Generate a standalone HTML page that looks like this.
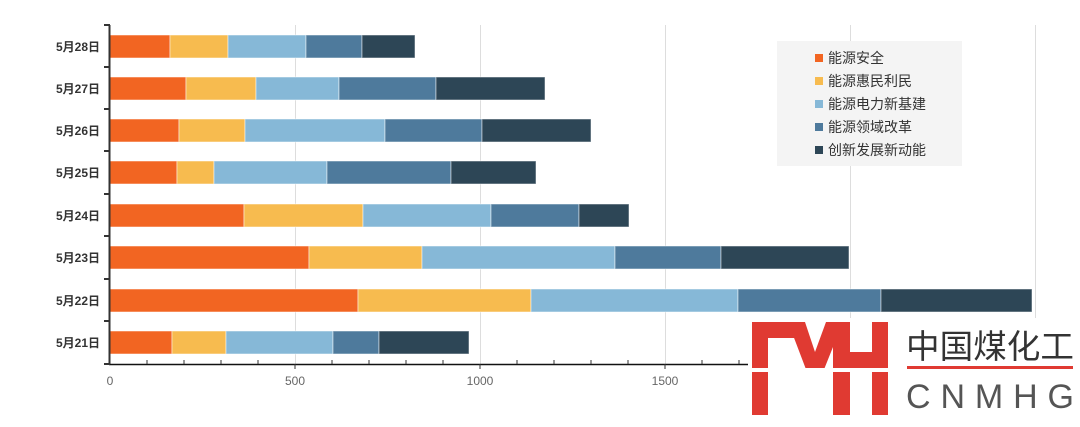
<!DOCTYPE html><html><head><meta charset="utf-8"><style>
body{margin:0;background:#fff;width:1080px;height:422px;overflow:hidden}
text{font-family:"Liberation Sans","Noto Sans CJK SC",sans-serif}
</style></head><body>
<svg width="1080" height="422" viewBox="0 0 1080 422" xmlns="http://www.w3.org/2000/svg">
<g stroke="#ddd" stroke-width="1">
<line x1="295.5" y1="25" x2="295.5" y2="364"/><line x1="480.5" y1="25" x2="480.5" y2="364"/>
<line x1="665.5" y1="25" x2="665.5" y2="364"/><line x1="850.5" y1="25" x2="850.5" y2="364"/>
<line x1="1035.5" y1="25" x2="1035.5" y2="364"/>
</g>
<g id="bars"></g>
<line x1="109.5" y1="25" x2="109.5" y2="365" stroke="#333" stroke-width="2"/>
<line x1="109" y1="364.5" x2="1040" y2="364.5" stroke="#111" stroke-width="1.5"/>
<g stroke="#333" stroke-width="2">
<line x1="104" y1="25" x2="110" y2="25"/><line x1="104" y1="67" x2="110" y2="67"/><line x1="104" y1="109" x2="110" y2="109"/><line x1="104" y1="151" x2="110" y2="151"/><line x1="104" y1="194" x2="110" y2="194"/><line x1="104" y1="236" x2="110" y2="236"/><line x1="104" y1="279" x2="110" y2="279"/><line x1="104" y1="321" x2="110" y2="321"/><line x1="104" y1="364" x2="110" y2="364"/>
</g>
<g stroke="#333" stroke-width="1" id="ticks"></g>
<g font-size="12" fill="#666" text-anchor="middle">
<text x="110" y="385">0</text><text x="295" y="385">500</text><text x="480" y="385">1000</text><text x="665" y="385">1500</text>
</g>
<g font-size="12" font-weight="bold" fill="#333" text-anchor="end">
<text x="100" y="51">5月28日</text><text x="100" y="93">5月27日</text><text x="100" y="135">5月26日</text><text x="100" y="177">5月25日</text><text x="100" y="220">5月24日</text><text x="100" y="262">5月23日</text><text x="100" y="305">5月22日</text><text x="100" y="347">5月21日</text>
</g>
<rect x="777" y="41" width="185" height="125" fill="#f4f4f4"/>
<g font-size="14" fill="#333">
<rect x="815" y="54" width="8" height="8" fill="#f26522"/><text x="828" y="63">能源安全</text>
<rect x="815" y="77" width="8" height="8" fill="#f7bb4f"/><text x="828" y="86">能源惠民利民</text>
<rect x="815" y="100" width="8" height="8" fill="#86b8d7"/><text x="828" y="109">能源电力新基建</text>
<rect x="815" y="123" width="8" height="8" fill="#4e7a9c"/><text x="828" y="132">能源领域改革</text>
<rect x="815" y="146" width="8" height="8" fill="#2d4656"/><text x="828" y="155">创新发展新动能</text>
</g>
<rect x="748" y="318" width="332" height="104" fill="#fff"/>
<g fill="#e03a32">
<rect x="752" y="322" width="16" height="93"/>
<rect x="752" y="322" width="52" height="16"/>
<polygon points="788,322 805,322 815,352 826,322 843,322 823,372 807,372"/>
<rect x="833" y="322" width="17" height="93"/>
<rect x="872" y="322" width="16" height="93"/>
<rect x="833" y="352" width="55" height="16"/>
<rect x="907" y="366" width="166" height="3"/>
</g>
<rect x="748" y="368" width="145" height="4" fill="#fff"/>
<text x="906" y="358" font-size="33" fill="#333" textLength="168" lengthAdjust="spacingAndGlyphs">中国煤化工</text>
<text x="906" y="408" font-size="34" fill="#555" textLength="168" lengthAdjust="spacing">CNMHG</text>
</svg>
<script>
var d=[[35,[110,170,228,306,362,415]],[77,[110,186,256,339,436,545]],[119,[110,179,245,385,482,591]],[161,[110,177,214,327,451,536]],[204,[110,244,363,491,579,629]],[246,[110,309,422,615,721,849]],[289,[110,358,531,738,881,1032]],[331,[110,172,226,333,379,469]]];
var c=["#f26522","#f7bb4f","#86b8d7","#4e7a9c","#2d4656"],s="";
d.forEach(function(r){for(var i=0;i<5;i++){s+='<rect x="'+r[1][i]+'" y="'+r[0]+'" width="'+(r[1][i+1]-r[1][i])+'" height="23" fill="'+c[i]+'" stroke="#fff" stroke-opacity="0.5" stroke-width="1"/>';}});
document.getElementById("bars").innerHTML=s;
var t="";for(var v=100;v<=2500;v+=100){var x=110+v*0.37;if(v%500==0)t+='<line x1="'+x+'" y1="364" x2="'+x+'" y2="369"/>';else t+='<line x1="'+x+'" y1="360" x2="'+x+'" y2="364"/>';}
document.getElementById("ticks").innerHTML=t;
</script>
</body></html>
